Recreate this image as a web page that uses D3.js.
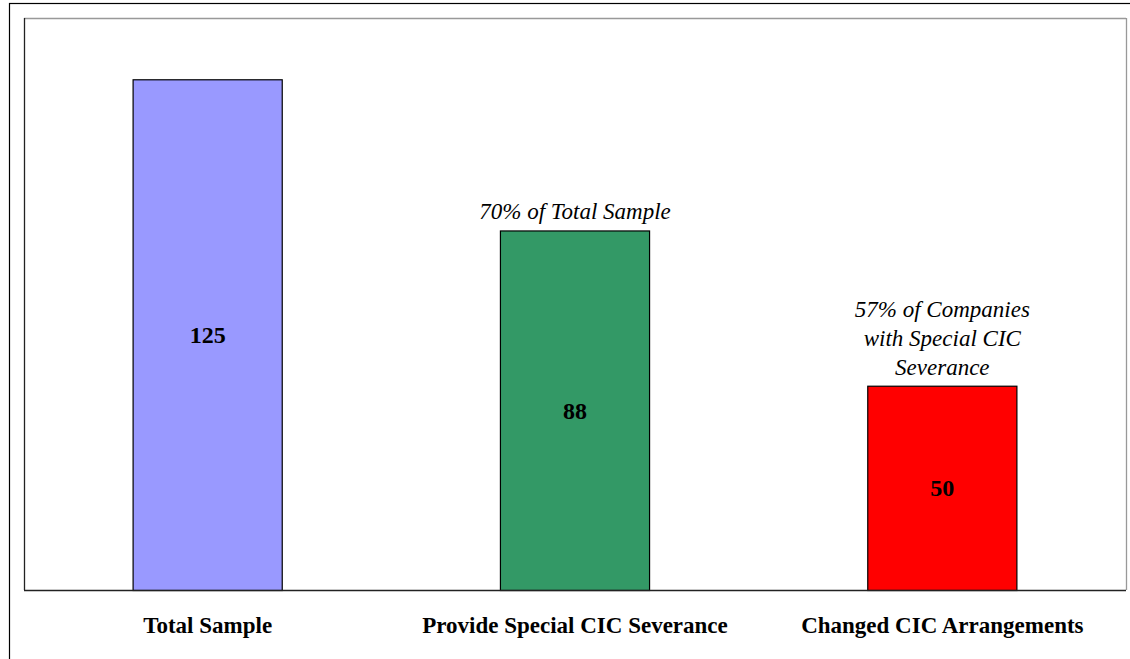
<!DOCTYPE html>
<html><head><meta charset="utf-8">
<script src="https://d3js.org/d3.v7.min.js"></script>
<style>body{margin:0;background:#fff}svg{display:block}</style>
</head><body>
<script>
const categories = ["Total Sample", "Provide Special CIC Severance", "Changed CIC Arrangements"];
const values = [125, 88, 50];
const colors = ["#9999FF", "#339966", "#FF0000"];
const annotations = [[], ["70% of Total Sample"], ["57% of Companies", "with Special CIC", "Severance"]];

const W = 1130, H = 659;
const svg = d3.select("body").append("svg").attr("width", W).attr("height", H);
const m = {left: 24, top: 18, right: 1126, bottom: 590};
const font = "'Liberation Serif', 'Times New Roman', serif";

// outer frame
svg.append("rect").attr("x", 9.5).attr("y", 3.5).attr("width", 1130).attr("height", 700)
  .attr("fill", "none").attr("stroke", "#000").attr("stroke-width", 1.2);

const x = d3.scaleBand().domain(categories).range([m.left, m.right]).paddingInner(0.594).paddingOuter(0.297);
const y = d3.scaleLinear().domain([0, 140]).range([m.bottom, m.top]);

// plot area border
svg.append("line").attr("x1", m.left).attr("x2", m.right).attr("y1", m.top + 0.5).attr("y2", m.top + 0.5).attr("stroke", "#999").attr("stroke-width", 1.3);
svg.append("line").attr("x1", m.right + 0.5).attr("x2", m.right + 0.5).attr("y1", m.top).attr("y2", m.bottom).attr("stroke", "#999").attr("stroke-width", 1.3);
svg.append("line").attr("x1", m.left + 0.5).attr("x2", m.left + 0.5).attr("y1", m.top).attr("y2", m.bottom).attr("stroke", "#222").attr("stroke-width", 1.3);

svg.selectAll("rect.bar").data(values).join("rect").attr("class", "bar")
  .attr("x", (d, i) => x(categories[i]))
  .attr("y", d => y(d) + 0.5)
  .attr("width", x.bandwidth())
  .attr("height", d => m.bottom - y(d))
  .attr("fill", (d, i) => colors[i])
  .attr("stroke", "#000").attr("stroke-width", 1.2);

// x axis
const xAxis = svg.append("g").attr("transform", `translate(0,${m.bottom + 0.5})`)
  .call(d3.axisBottom(x).tickSize(0).tickPadding(26));
xAxis.select(".domain").attr("stroke", "#222").attr("stroke-width", 1.3).attr("d", `M${m.left},0H${m.right}`);
xAxis.selectAll("text").attr("font-family", font)
  .attr("font-size", 23).attr("font-weight", "bold").attr("fill", "#000");

// value labels
svg.selectAll("text.val").data(values).join("text").attr("class", "val")
  .attr("x", (d, i) => x(categories[i]) + x.bandwidth() / 2)
  .attr("y", d => (y(d) + m.bottom) / 2)
  .attr("dy", "0.35em").attr("text-anchor", "middle")
  .attr("font-family", font)
  .attr("font-size", 24).attr("font-weight", "bold").text(d => d);

// annotations
annotations.forEach((lines, i) => {
  const cx = x(categories[i]) + x.bandwidth() / 2;
  const top = y(values[i]);
  lines.forEach((t, j) => {
    svg.append("text").attr("x", cx)
      .attr("y", top - 11 - (lines.length - 1 - j) * 29)
      .attr("text-anchor", "middle")
      .attr("font-family", font)
      .attr("font-size", 23).attr("font-style", "italic").text(t);
  });
});
</script>
</body></html>
